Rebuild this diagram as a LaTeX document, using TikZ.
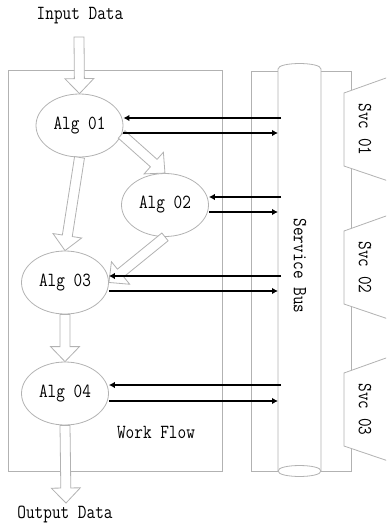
\documentclass[tikz,border=0pt]{standalone}
\usepackage{fontspec}
\newfontfamily\dfont{Latin Modern Mono}[FakeStretch=0.84]
\usetikzlibrary{shapes.geometric,arrows.meta,calc}
\tikzset{
  gl/.style={draw=gray!60, line width=0.8pt},
  algnode/.style={ellipse, draw=gray!60, line width=0.8pt, fill=white, minimum width=87pt, minimum height=63pt, inner sep=0pt},
  txt/.style={font=\dfont\fontsize{20}{22}\selectfont, inner sep=0pt},
  busarrow/.style={line width=1.6pt, -{Latex[length=6pt,width=6.5pt]}},
}
\newcommand{\blockarrow}[2]{%
  \path let \p1=(#1), \p2=(#2), \n1={atan2(\y2-\y1,\x2-\x1)}, \n2={veclen(\x2-\x1,\y2-\y1)} in
    [gl, fill=white, shift={(\p1)}, rotate=\n1]
    (0pt,-5pt) -- ({(\n2-15)*1pt},-5pt) -- ({(\n2-15)*1pt},-14.5pt) -- ({\n2*1pt},0pt)
    -- ({(\n2-15)*1pt},14.5pt) -- ({(\n2-15)*1pt},5pt) -- (0pt,5pt) -- cycle;}
\begin{document}
\begin{tikzpicture}[x=1pt,y=-1pt]
\useasboundingbox (0,0) rectangle (386,527);
\clip (0,0) rectangle (386,527);
% work flow frame
\draw[gl] (8,70) rectangle (222,471);
% bus frame
\draw[gl] (251,71) rectangle (351,471);
% cylinder
\filldraw[gl, fill=white] (278,471) -- (278,69) .. controls (278,61.7) and (321,61.7) .. (321,69)
  -- (321,471) .. controls (321,478.3) and (278,478.3) .. (278,471) -- cycle;
\draw[gl] (278,471) .. controls (278,463.7) and (321,463.7) .. (321,471);
% services
\foreach \yy/\lab in {93/01,231/02,373/03}{
  \draw[gl, fill=white] (400,\yy-20) -- (344,\yy) -- (344,\yy+73) -- (400,\yy+92);
  \node[txt, rotate=-90] at (365,\yy+36.5) {Svc \lab};
}
% algorithm nodes
\node[algnode, txt] (a1) at (79.5,125.5) {Alg 01};
\node[algnode, txt] (a2) at (165,205) {Alg 02};
\node[algnode, txt] (a3) at (65,282.5) {Alg 03};
\node[algnode, txt] (a4) at (65,393.5) {Alg 04};
% in / out
\coordinate (inS) at (79,37);
\coordinate (outE) at (66,503);
\node[txt] (inT) at (80,16) {Input Data};
\node[txt] (outT) at (65,514) {Output Data};
\node[txt] (wf) at (156,432) {Work Flow};
\node[txt, rotate=-90] (bus) at (300,266) {Service Bus};
% block arrows
\blockarrow{inS}{a1.north}
\blockarrow{a1.south}{a3.north}
\blockarrow{a1.-12}{a2.north}
\blockarrow{a2.south}{a3.east}
\blockarrow{a3.south}{a4.north}
\blockarrow{a4.south}{outE}
% bus arrows
\foreach \n/\yu/\yd in {a1/118/133, a2/197/212, a3/276/291, a4/385/401}{
  \coordinate (u\n) at (281,\yu);
  \coordinate (d\n) at (278,\yd);
  \draw[busarrow] (u\n) -- (u\n -| \n.east);
  \draw[busarrow] (d\n -| \n.east) -- (d\n);
}
\end{tikzpicture}
\end{document}
